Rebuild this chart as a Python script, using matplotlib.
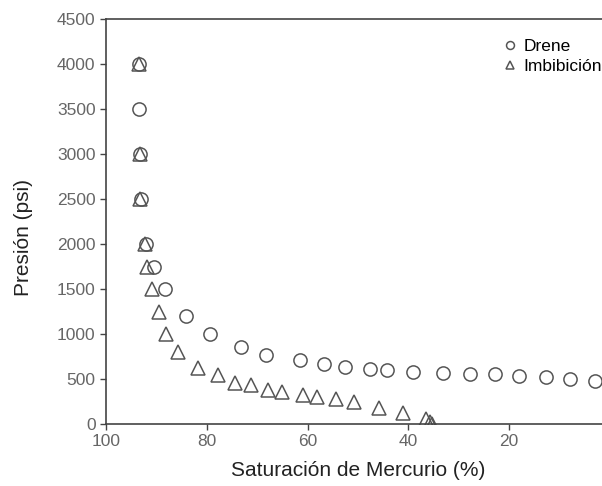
import numpy as np
import matplotlib.pyplot as plt

plt.rcParams['font.family'] = ['Liberation Sans', 'DejaVu Sans']

# saturacion de mercurio (%) y presion (psi)
sat_drene = [93.5, 93.5, 93.3, 93.0, 92.0, 90.5, 88.3, 84.1, 79.4, 73.3, 68.3, 61.6,
             56.7, 52.6, 47.6, 44.2, 39.1, 33.2, 27.8, 22.8, 18.1, 12.7, 7.9, 3.0]
p_drene = [4000, 3500, 3000, 2500, 2000, 1750, 1500, 1200, 1000, 860, 770, 710,
           670, 630, 610, 600, 580, 570, 560, 555, 535, 520, 505, 480]

sat_imb = [93.5, 93.3, 93.2, 92.3, 91.8, 90.9, 89.5, 88.0, 85.7, 81.7, 77.7, 74.4,
           71.2, 67.9, 65.1, 61.0, 58.2, 54.4, 50.8, 45.8, 41.1, 36.5, 35.8, 35.3]
p_imb = [4000, 3000, 2500, 2000, 1750, 1500, 1250, 1000, 800, 620, 540, 460,
         430, 380, 360, 320, 300, 275, 240, 175, 120, 60, 20, 0]

xticks = [100, 80, 60, 40, 20]
yticks = np.arange(0, 4501, 500)

fig = plt.figure(figsize=(6.02, 4.86), dpi=100)
ax = fig.add_axes([106/602, 62/486, 504/602, 405/486])

mk = dict(linestyle='none', markerfacecolor='none', markeredgecolor='#555555',
          markeredgewidth=1.1)
ax.plot(sat_drene, p_drene, marker='o', markersize=9.5, label='Drene', **mk)
ax.plot(sat_imb, p_imb, marker='^', markersize=9.5, label='Imbibición', **mk)

ax.set_xlim(100, 0)
ax.set_ylim(0, 4500)
ax.set_xticks(xticks)
ax.set_yticks(yticks)
ax.tick_params(direction='out', length=4, width=1, colors='#444444',
               labelcolor='#666666', labelsize=12.5)
for s in ax.spines.values():
    s.set_color('#444444')
    s.set_linewidth(1.2)

ax.set_xlabel('Saturación de Mercurio (%)', fontsize=15, color='#222222', labelpad=8)
ax.set_ylabel('Presión (psi)', fontsize=15, color='#222222')
ax.yaxis.set_label_coords(-0.145, 0.46)

fig.legend(loc='upper left', bbox_to_anchor=(494/602, 1 - 30/486), frameon=False,
           markerscale=0.6, handlelength=0.8, handletextpad=0.4, borderpad=0,
           labelspacing=0.3, fontsize=12.5)

fig.savefig('out.png', dpi=100)
